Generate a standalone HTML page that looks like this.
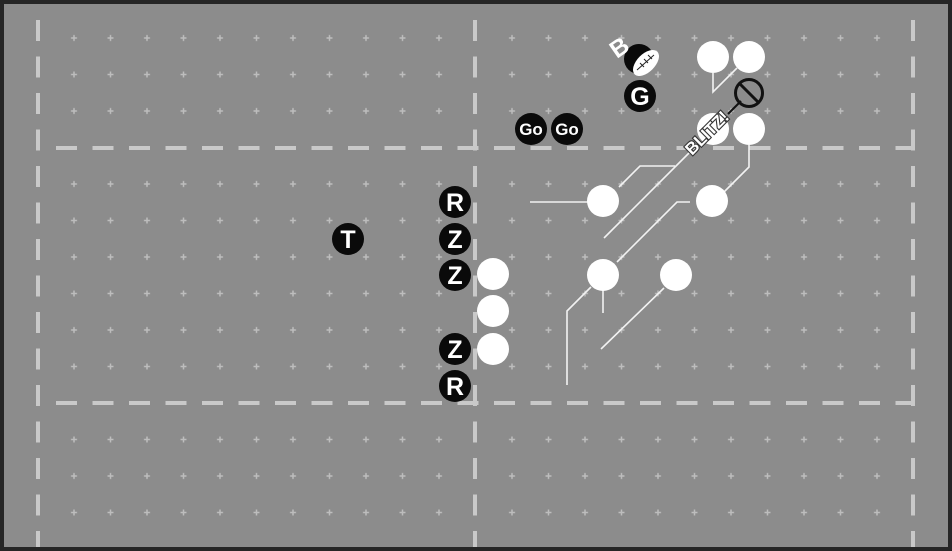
<!DOCTYPE html>
<html><head><style>
html,body{margin:0;padding:0;background:#222;}
svg{display:block;}
text{font-family:"Liberation Sans Narrow","Liberation Sans",sans-serif;font-weight:bold;}
</style></head><body>
<svg width="952" height="551" viewBox="0 0 952 551" xmlns="http://www.w3.org/2000/svg">
<defs>
<pattern id="pl" x="55.75" y="19.75" width="36.5" height="36.5" patternUnits="userSpaceOnUse">
<path d="M18.25 15.25v6M15.25 18.25h6" stroke="#bdbdbd" stroke-width="1.5"/>
</pattern>
</defs>
<rect x="0" y="0" width="952" height="551" fill="#262626"/>
<rect x="4" y="4" width="944" height="543" fill="#8c8c8c"/>
<g fill="url(#pl)">
<rect x="56" y="20" width="401" height="110"/>
<rect x="493" y="20" width="402" height="110"/>
<rect x="56" y="166" width="401" height="219"/>
<rect x="493" y="166" width="402" height="219"/>
<rect x="56" y="421" width="401" height="110"/>
<rect x="493" y="421" width="402" height="110"/>
</g>
<g stroke="#c9c9c9" stroke-width="4" stroke-dasharray="21 15.5" fill="none">
<path d="M38 20V547"/>
<path d="M475 20V547"/>
<path d="M913 20V547"/>
<path d="M56 148H913"/>
<path d="M56 403H913"/>
</g>
<g stroke="#f2f2f2" stroke-width="1.6" fill="none">
<path d="M713 73V92L737 68"/>
<path d="M749 145V167L722 194"/>
<path d="M530 202H588"/>
<path d="M619 187L640 166H675"/>
<path d="M604 238L690 152"/>
<path d="M690 202H677L617 262"/>
<path d="M591 287L567 311V385"/>
<path d="M603 290V313"/>
<path d="M664 288L601 349"/>
</g>
<path d="M741 101L728 114" stroke="#111" stroke-width="2"/>
<g fill="#fff">
<circle cx="713" cy="57" r="16"/><circle cx="749" cy="57" r="16"/>
<circle cx="713" cy="129" r="16"/><circle cx="749" cy="129" r="16"/>
<circle cx="603" cy="201" r="16"/><circle cx="712" cy="201" r="16"/>
<circle cx="603" cy="275" r="16"/><circle cx="676" cy="275" r="16"/>
<circle cx="493" cy="274" r="16"/><circle cx="493" cy="311" r="16"/><circle cx="493" cy="349" r="16"/>
</g>
<circle cx="749" cy="93" r="13.5" fill="none" stroke="#111" stroke-width="3"/>
<path d="M740 84L758 102" stroke="#111" stroke-width="3"/>
<text x="0" y="0" font-size="17" fill="#fff" stroke="#333" stroke-width="2.2" paint-order="stroke" text-anchor="middle" transform="translate(711 137) rotate(-45)">BLITZ!</text>
<g fill="#0a0a0a">
<circle cx="455" cy="202" r="16"/><circle cx="455" cy="239" r="16"/>
<circle cx="455" cy="275" r="16"/><circle cx="455" cy="349" r="16"/>
<circle cx="455" cy="386" r="16"/><circle cx="348" cy="239" r="16"/>
<circle cx="531" cy="129" r="16"/><circle cx="567" cy="129" r="16"/>
<circle cx="640" cy="96" r="16"/><circle cx="639" cy="59" r="15"/>
</g>
<g fill="#fff" text-anchor="middle" font-size="25">
<text x="455" y="211">R</text><text x="455" y="248">Z</text>
<text x="455" y="284">Z</text><text x="455" y="358">Z</text>
<text x="455" y="395">R</text><text x="348" y="248">T</text>
<text x="640" y="105">G</text>
<text x="531" y="135" font-size="17">Go</text><text x="567" y="135" font-size="17">Go</text>
</g>
<ellipse cx="646" cy="63" rx="16" ry="9" fill="#fff" transform="rotate(-45 646 63)"/>
<path d="M637 70L654 55M640 63l4 4M644 59l4 4M648 55l4 4" stroke="#222" stroke-width="1"/>
<text x="0" y="0" font-size="24" fill="#fff" text-anchor="middle" transform="translate(624 54) rotate(-35)">B</text>
</svg>
</body></html>
